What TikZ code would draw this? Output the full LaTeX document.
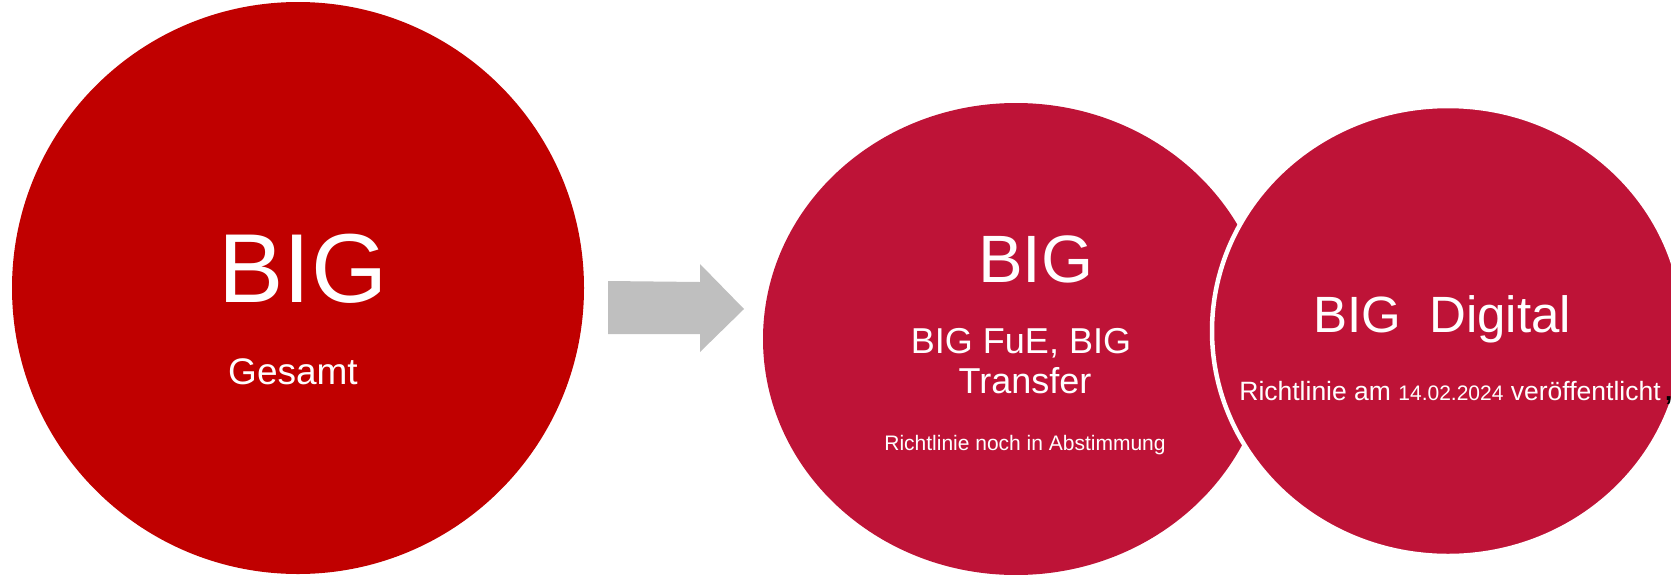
\documentclass[tikz,border=0pt]{standalone}
\usepackage{fontspec}
\setmainfont{Liberation Sans}
\usetikzlibrary{shapes.geometric}
\definecolor{bigred}{RGB}{192,0,0}
\definecolor{crimson}{RGB}{190,19,55}
\definecolor{arrowgray}{RGB}{191,191,191}
\newcommand{\fs}[1]{\fontsize{#1}{#1}\selectfont}
\begin{document}
\begin{tikzpicture}[x=1pt,y=-1pt,
  blob/.style={ellipse, inner sep=0pt, outer sep=0pt},
  txt/.style={text=white, inner sep=0pt, anchor=base}]
\useasboundingbox (0,0) rectangle (1671,574);
% left circle
\node[blob, fill=bigred, minimum width=572pt, minimum height=572pt] (gesamt) at (298,288) {};
\node[txt, font=\fs{98}] (gesamtbig) at (303,302) {BIG};
\node[txt, font=\fs{37}] (gesamtsub) at (293,384) {Gesamt};
% block arrow
\coordinate (a1) at (608,281);
\coordinate (a2) at (700,282);
\coordinate (a3) at (700,264);
\coordinate (a4) at (744,309);
\coordinate (a5) at (700,352);
\coordinate (a6) at (700,334);
\coordinate (a7) at (608,334);
\fill[arrowgray] (a1) -- (a2) -- (a3) -- (a4) -- (a5) -- (a6) -- (a7) -- cycle;
% middle ellipse
\node[blob, fill=crimson, minimum width=506pt, minimum height=472pt] (fue) at (1016,339) {};
% right ellipse
\node[blob, fill=crimson, draw=white, line width=4.5pt, minimum width=472pt, minimum height=450pt] (digital) at (1448,331) {};
% texts middle
\node[txt, font=\fs{67}] (fuebig) at (1036,282) {BIG};
\node[txt, font=\fs{36}] (fueline1) at (1021,353) {BIG FuE, BIG};
\node[txt, font=\fs{36}] (fueline2) at (1025,393) {Transfer};
\node[txt, font=\fs{21}] (fuenote) at (1025,450) {Richtlinie noch in Abstimmung};
% texts right
\node[txt, font=\fs{51}] (digbig) at (1442,332) {BIG~~Digital};
\node[txt, font=\fs{26.5}] (dignote) at (1450,400) {Richtlinie am {\fs{21}14.02.2024} veröffentlicht};
\node[inner sep=0pt, anchor=base west, text=black, font=\fs{26}\bfseries] (digcomma) at ([xshift=4pt]dignote.base east) {,};
\end{tikzpicture}
\end{document}
